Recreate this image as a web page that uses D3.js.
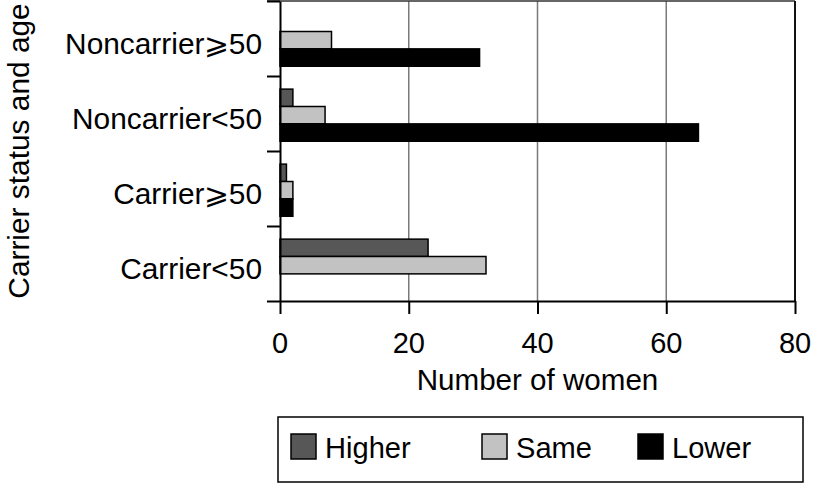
<!DOCTYPE html>
<html>
<head>
<meta charset="utf-8">
<script src="https://cdn.jsdelivr.net/npm/d3@7"></script>
<style>
  body { margin: 0; background: #fff; }
  svg text { font-family: "Liberation Sans", Arial, Helvetica, sans-serif; fill: #000; }
</style>
</head>
<body>
<div id="chart"></div>
<script>
// data (top row first)
var categories = ["Noncarrier\u2A7E50", "Noncarrier<50", "Carrier\u2A7E50", "Carrier<50"];
var series = ["Higher", "Same", "Lower"];
var higher = [0, 2, 1, 23];
var same = [8, 7, 2, 32];
var lower = [31, 65, 2, 0];
var xTicks = [0, 20, 40, 60, 80];
var xTitle = "Number of women";
var yTitle = "Carrier status and age";

(function(){
    var W = 813, H = 486;
    var fills = {"Higher" : "#575757", "Same" : "#c2c2c2", "Lower" : "#000"};
    var values = {"Higher" : higher, "Same" : same, "Lower" : lower};

    var svg = d3.select("#chart").append("svg")
	.attr("width", W)
	.attr("height", H);

    var x = d3.scaleLinear().domain([0, 80]).range([280, 795]);
    var y = d3.scaleBand().domain(categories).range([1, 301]);
    var bw = y.bandwidth();
    var inner = d3.scaleBand().domain(series).range([bw * 0.175, bw * 0.87]);

    // text helper; sx widens the glyphs a bit, the original type is wider
    var label = function(sel, px, py, str, opts){
	opts = opts || {};
	return sel.append("text")
	    .attr("transform", "translate(" + px + "," + py + ")" +
		  (opts.rotate ? " rotate(" + opts.rotate + ")" : "") +
		  " scale(" + (opts.sx || 1) + ",1)")
	    .attr("text-anchor", opts.anchor || "middle")
	    .style("font-size", (opts.size || 29) + "px")
	    .text(str);
    };

    //grid
    svg.append("g").selectAll("line")
	.data(xTicks.slice(1, -1))
	.enter().append("line")
	.attr("x1", function(d){ return x(d); })
	.attr("x2", function(d){ return x(d); })
	.attr("y1", y.range()[0])
	.attr("y2", y.range()[1])
	.attr("stroke", "#7a7a7a")
	.attr("stroke-width", 1.5);

    // frame top and right
    svg.append("line")
	.attr("x1", x(0) - 13).attr("x2", x(80))
	.attr("y1", y.range()[0]).attr("y2", y.range()[0])
	.attr("stroke", "#333").attr("stroke-width", 1.5);
    svg.append("line")
	.attr("x1", x(80)).attr("x2", x(80))
	.attr("y1", y.range()[0]).attr("y2", y.range()[1])
	.attr("stroke", "#111").attr("stroke-width", 2);

    //bars
    var rows = categories.map(function(c, i){
	return series.map(function(s){
	    return {cat : c, key : s, value : values[s][i]};
	});
    });
    svg.append("g").selectAll("g")
	.data(rows)
	.enter().append("g")
	.attr("transform", function(d){ return "translate(0," + y(d[0].cat) + ")"; })
	.selectAll("rect")
	.data(function(d){ return d.filter(function(e){ return e.value > 0; }); })
	.enter().append("rect")
	.attr("x", x(0))
	.attr("y", function(d){ return inner(d.key); })
	.attr("width", function(d){ return x(d.value) - x(0); })
	.attr("height", inner.bandwidth())
	.attr("fill", function(d){ return fills[d.key]; })
	.attr("stroke", "#000")
	.attr("stroke-width", 1.5);

    //x axis
    var xAxis = svg.append("g")
	.attr("transform", "translate(0," + y.range()[1] + ")")
	.call(d3.axisBottom(x).tickValues(xTicks).tickSize(13).tickSizeOuter(0).tickFormat(""));
    xAxis.selectAll("path, line").attr("stroke", "#000").attr("stroke-width", 2);
    xTicks.forEach(function(t){
	label(svg, x(t), 353, String(t));
    });
    label(svg, (x(0) + x(80)) / 2, 390, xTitle, {sx : 1.02});

    //y axis: ticks on band edges, labels in the middle
    var edges = d3.scaleLinear().domain([0, categories.length]).range(y.range());
    var yAxis = svg.append("g")
	.attr("transform", "translate(" + x(0) + ",0)")
	.call(d3.axisLeft(edges).ticks(categories.length).tickSize(13).tickSizeOuter(0).tickFormat(""));
    yAxis.selectAll("path, line").attr("stroke", "#000").attr("stroke-width", 2);
    categories.forEach(function(c){
	label(svg, x(0) - 18, y(c) + bw / 2 + 5 + 10.4, c, {anchor : "end", sx : 1.03});
    });
    label(svg, 29, (y.range()[0] + y.range()[1]) / 2, yTitle, {rotate : -90, sx : 1.03});

    //legend
    var legX = [13, 204, 360];
    var leg = svg.append("g").attr("transform", "translate(278,417)");
    leg.append("rect")
	.attr("width", 525).attr("height", 65)
	.attr("fill", "none").attr("stroke", "#000").attr("stroke-width", 1.5);
    series.forEach(function(s, i){
	leg.append("rect")
	    .attr("x", legX[i]).attr("y", 17)
	    .attr("width", 25).attr("height", 25)
	    .attr("fill", fills[s]).attr("stroke", "#000").attr("stroke-width", 1.5);
	label(leg, legX[i] + 34, 40.5, s, {anchor : "start", size : 30, sx : 0.97});
    });
})();
</script>
</body>
</html>
